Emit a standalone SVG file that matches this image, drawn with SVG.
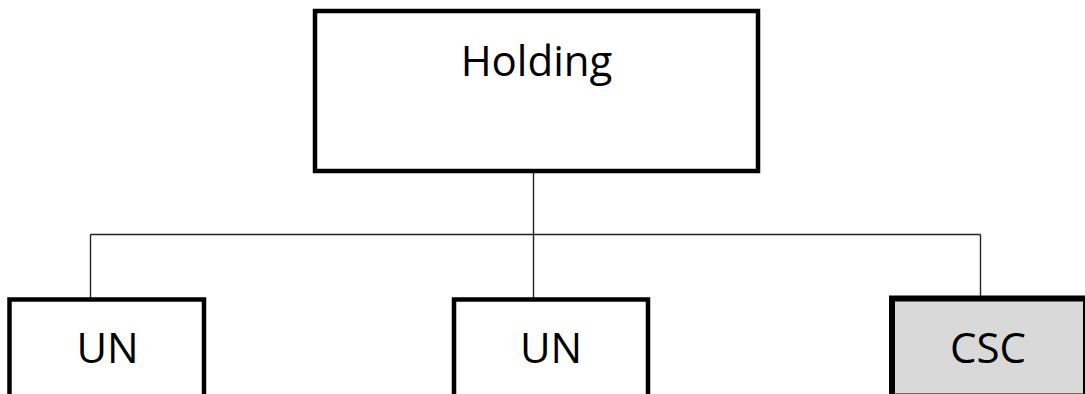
<svg xmlns="http://www.w3.org/2000/svg" width="1085" height="394" viewBox="0 0 1085 394">
<style>
.box{fill:#ffffff;stroke:#000000;stroke-width:4.5}
.csc{fill:#d9d9d9;stroke:#000000;stroke-width:6}
.lbl{font-family:"Open Sans","Liberation Sans",sans-serif;font-size:42px;fill:#000000;text-anchor:middle}
.conn{fill:none;stroke:#222222;stroke-width:1.4}
</style>
<rect width="1085" height="394" fill="#ffffff"/>
<g id="connectors">
<path class="conn" d="M533.5 173 V298"/>
<path class="conn" d="M90.5 234.5 H980.5"/>
<path class="conn" d="M90.5 234.5 V298"/>
<path class="conn" d="M980.5 234.5 V298"/>
</g>
<g id="holding">
<rect class="box" x="315" y="11" width="443" height="160"/>
<text class="lbl" x="536.5" y="76">Holding</text>
</g>
<g id="un1">
<rect class="box" x="9.5" y="299.5" width="194.5" height="97"/>
<text class="lbl" x="107.5" y="363">UN</text>
</g>
<g id="un2">
<rect class="box" x="454" y="299.5" width="194" height="97"/>
<text class="lbl" x="551" y="363">UN</text>
</g>
<g id="csc">
<rect class="csc" x="892" y="298.5" width="194" height="98"/>
<text class="lbl" x="988" y="363">CSC</text>
</g>
</svg>
